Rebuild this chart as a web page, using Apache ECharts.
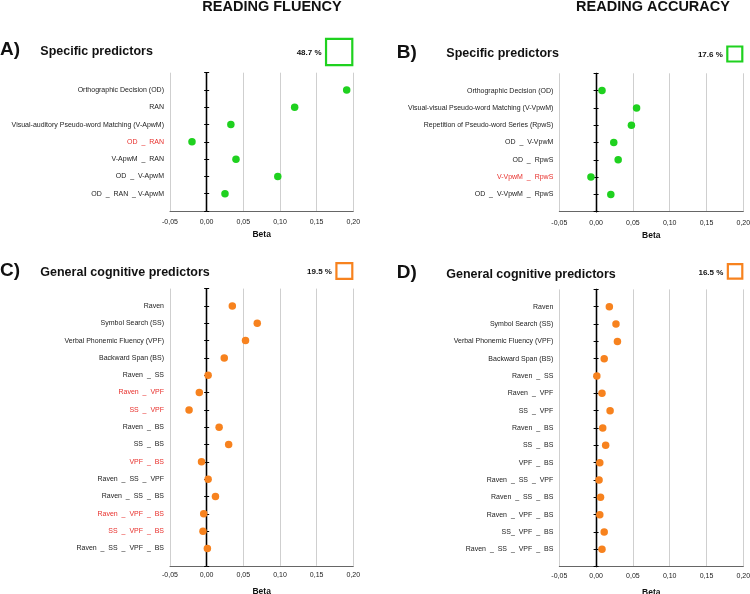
<!DOCTYPE html>
<html><head><meta charset="utf-8">
<script src="https://cdn.jsdelivr.net/npm/echarts@6/dist/echarts.min.js"></script>
<style>html,body{margin:0;padding:0;background:#fff}#c{width:750px;height:594px}</style>
</head><body><div id="c"></div>
<script>
// ---------- data ----------
const headers = ['READING FLUENCY', 'READING ACCURACY'];
const panelLetters = ['A)', 'B)', 'C)', 'D)'];
const panelTitles = ['Specific predictors', 'Specific predictors', 'General cognitive predictors', 'General cognitive predictors'];
const variancePct = [48.7, 17.6, 19.5, 16.5];
const betaMin = -0.05, betaMax = 0.20, betaStep = 0.05;

const catsA = ['Orthographic Decision (OD)', 'RAN', 'Visual-auditory Pseudo-word Matching (V-ApwM)', 'OD  _  RAN', 'V-ApwM  _  RAN', 'OD  _  V-ApwM', 'OD  _  RAN  _ V-ApwM'];
const betaA = [0.191, 0.120, 0.033, -0.020, 0.040, 0.097, 0.025];
const redA = ['OD  _  RAN'];

const catsB = ['Orthographic Decision (OD)', 'Visual-visual Pseudo-word Matching (V-VpwM)', 'Repetition of Pseudo-word Series (RpwS)', 'OD  _  V-VpwM', 'OD  _  RpwS', 'V-VpwM  _  RpwS', 'OD  _  V-VpwM  _  RpwS'];
const betaB = [0.008, 0.055, 0.048, 0.024, 0.030, -0.007, 0.020];
const redB = ['V-VpwM  _  RpwS'];

const catsC = ['Raven', 'Symbol Search (SS)', 'Verbal Phonemic Fluency (VPF)', 'Backward Span (BS)', 'Raven  _  SS', 'Raven  _  VPF', 'SS  _  VPF', 'Raven  _  BS', 'SS  _  BS', 'VPF  _  BS', 'Raven  _  SS  _  VPF', 'Raven  _  SS  _  BS', 'Raven  _  VPF  _  BS', 'SS  _  VPF  _  BS', 'Raven  _  SS  _  VPF  _  BS'];
const betaC = [0.035, 0.069, 0.053, 0.024, 0.002, -0.010, -0.024, 0.017, 0.030, -0.007, 0.002, 0.012, -0.004, -0.005, 0.001];
const redC = ['Raven  _  VPF', 'SS  _  VPF', 'VPF  _  BS', 'Raven  _  VPF  _  BS', 'SS  _  VPF  _  BS'];

const catsD = ['Raven', 'Symbol Search (SS)', 'Verbal Phonemic Fluency (VPF)', 'Backward Span (BS)', 'Raven  _  SS', 'Raven  _  VPF', 'SS  _  VPF', 'Raven  _  BS', 'SS  _  BS', 'VPF  _  BS', 'Raven  _  SS  _  VPF', 'Raven  _  SS  _  BS', 'Raven  _  VPF  _  BS', 'SS_  VPF  _  BS', 'Raven  _  SS  _  VPF  _  BS'];
const betaD = [0.018, 0.027, 0.029, 0.011, 0.001, 0.008, 0.019, 0.009, 0.013, 0.005, 0.004, 0.006, 0.005, 0.011, 0.008];
const redD = [];

// ---------- style / layout ----------
const FF = '"Liberation Sans", Arial, Helvetica, sans-serif';
const GREEN = '#1fd11f', ORANGE = '#f7821e', RED = '#e8302c';
const grids = [
  {left: 170, top: 72.7, width: 183.3, height: 138.3},
  {left: 559.3, top: 73.3, width: 184, height: 138.4},
  {left: 170, top: 288.6, width: 183.3, height: 277.2},
  {left: 559.3, top: 289.4, width: 184, height: 277.2}
];
const panelData = [
  [catsA, betaA, redA, GREEN],
  [catsB, betaB, redB, GREEN],
  [catsC, betaC, redC, ORANGE],
  [catsD, betaD, redD, ORANGE]
];

const xAxis = [], yAxis = [], series = [], graphic = [];

panelData.forEach(([cats, betas, reds, color], i) => {
  const row = Math.floor(i / 2);
  const padded = [' ', ...cats, '  '];
  const yBase = {type: 'category', gridIndex: i, data: padded, inverse: true, boundaryGap: false, splitLine: {show: false}};
  yAxis.push(Object.assign({}, yBase, {
    position: 'left',
    axisLine: {show: false, onZero: false},
    axisTick: {show: false},
    axisLabel: {interval: 0, margin: 6, fontSize: 7, fontFamily: FF,
      color: (v) => reds.indexOf(v) >= 0 ? RED : '#222'}
  }));
  [false, true].forEach(inside => {
    yAxis.push(Object.assign({}, yBase, {
      position: 'left',
      axisLine: {show: true, onZero: true, onZeroAxisIndex: i, lineStyle: {color: '#000', width: 1.3}},
      axisTick: {show: true, interval: 0, inside: inside, length: 2.5, lineStyle: {color: '#000', width: 1}},
      axisLabel: {show: false}
    }));
  });
  xAxis.push({
    type: 'value', gridIndex: i, min: betaMin, max: betaMax, interval: betaStep,
    axisLine: {show: true, onZero: false, lineStyle: {color: '#666', width: 1}},
    axisTick: {show: false},
    axisLabel: {fontSize: 7, fontFamily: FF, margin: row === 0 ? 7.5 : 6, color: '#222',
      formatter: v => v.toFixed(2).replace('.', ',')},
    splitLine: {show: true, lineStyle: {color: '#cfcfcf', width: 1}},
    name: 'Beta', nameLocation: 'middle', nameGap: row === 0 ? 19.5 : 21.5,
    nameTextStyle: {fontSize: 8.5, fontWeight: 'bold', fontFamily: FF, color: '#111'}
  });
  series.push({
    type: 'scatter', xAxisIndex: i, yAxisIndex: 3 * i,
    data: betas.map((b, k) => [b, k + 1]),
    symbol: 'circle', symbolSize: 7.5,
    itemStyle: {color: color, opacity: 1},
    z: 5
  });

  // titles, percent text and variance box
  const g = grids[i];
  const right = g.left + g.width;
  const col = i % 2;
  const letterX = col === 0 ? 0 : 396.7;
  const titleX = col === 0 ? 40.3 : 446.3;
  const rowY = [[50, 52.5], [271, 273]][row][col];
  const boxCY = [53, 55, 272, 272.3][i];
  const side = 4.05 * Math.sqrt(variancePct[i]);
  graphic.push({type: 'text', x: letterX, y: rowY, style: {text: panelLetters[i], font: 'bold 19px ' + FF, fill: '#111', textAlign: 'left', align: 'left', textVerticalAlign: 'middle', verticalAlign: 'middle'}});
  graphic.push({type: 'text', x: titleX, y: rowY + 1.5, style: {text: panelTitles[i], font: 'bold 12.5px ' + FF, fill: '#111', textAlign: 'left', align: 'left', textVerticalAlign: 'middle', verticalAlign: 'middle'}});
  graphic.push({type: 'text', x: right - side - 3.5, y: boxCY, style: {text: variancePct[i].toFixed(1) + ' %', font: 'bold 8px ' + FF, fill: '#111', textAlign: 'right', align: 'right', textVerticalAlign: 'middle', verticalAlign: 'middle'}});
  graphic.push({type: 'rect', shape: {x: right - side + 1, y: boxCY - side / 2, width: side - 2, height: side - 2}, style: {fill: 'none', stroke: color, lineWidth: 2.2}});
});

graphic.push({type: 'text', x: 272, y: 7, style: {text: headers[0], font: 'bold 14.5px ' + FF, fill: '#111', textAlign: 'center', align: 'center', textVerticalAlign: 'middle', verticalAlign: 'middle'}});
graphic.push({type: 'text', x: 653, y: 7, style: {text: headers[1], font: 'bold 14.5px ' + FF, fill: '#111', textAlign: 'center', align: 'center', textVerticalAlign: 'middle', verticalAlign: 'middle'}});

const chart = echarts.init(document.getElementById('c'), null, {renderer: 'canvas'});
chart.setOption({
  backgroundColor: '#fff',
  animation: false,
  grid: grids.map(g => Object.assign({show: false, containLabel: false, outerBoundsMode: 'none'}, g)),
  xAxis, yAxis, series, graphic
});
</script>
</body></html>
